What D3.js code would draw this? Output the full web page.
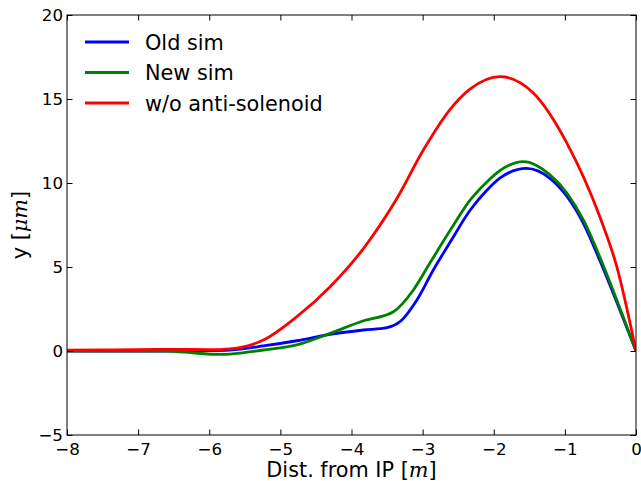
<!DOCTYPE html>
<html>
<head>
<meta charset="utf-8">
<script src="https://cdn.jsdelivr.net/npm/d3@7"></script>
<style>
body { margin: 0; background: #fff; }
text { font-family: "DejaVu Sans", sans-serif; fill: #000; }
</style>
</head>
<body>
<svg id="chart" width="641" height="481"></svg>
<script>
// Old sim (blue)
var old_x = [-8, -7, -6.5, -6, -5.71, -5.24, -4.77, -4.30, -3.83, -3.5, -3.32, -3.08, -2.85, -2.61, -2.33, -2.1, -1.91, -1.54, -1.21, -0.97, -0.74, -0.51, -0.27, 0];
var old_y = [0, 0, 0, 0.02, 0.06, 0.3, 0.61, 0.99, 1.25, 1.39, 1.74, 3.04, 4.82, 6.5, 8.39, 9.55, 10.3, 10.87, 10.28, 9.2, 7.6, 5.4, 2.9, 0];
// New sim (green)
var new_x = [-8, -7, -6.6, -6.2, -5.85, -5.71, -5.24, -4.77, -4.30, -3.83, -3.41, -3.13, -2.90, -2.61, -2.33, -2.1, -1.91, -1.58, -1.21, -0.97, -0.74, -0.51, -0.27, 0];
var new_y = [0, 0, 0, -0.12, -0.2, -0.18, 0.06, 0.36, 1.05, 1.8, 2.34, 3.63, 5.22, 7.2, 8.99, 10.05, 10.75, 11.27, 10.48, 9.39, 7.8, 5.61, 3.04, 0];
// w/o anti-solenoid (red)
var nosol_x = [-8, -7, -6.5, -6, -5.71, -5.24, -4.77, -4.30, -3.83, -3.36, -2.99, -2.61, -2.33, -1.91, -1.44, -0.97, -0.51, -0.27, 0];
var nosol_y = [0.05, 0.08, 0.1, 0.08, 0.13, 0.65, 2.04, 3.83, 6.11, 9.09, 11.96, 14.4, 15.6, 16.33, 15.34, 12.36, 8.0, 5.02, 0];

var x_ticks = [-8, -7, -6, -5, -4, -3, -2, -1, 0];
var y_ticks = [-5, 0, 5, 10, 15, 20];

var series = [
    {lab: "Old sim", col: "#0000ff", xs: old_x, ys: old_y},
    {lab: "New sim", col: "#008000", xs: new_x, ys: new_y},
    {lab: "w/o anti-solenoid", col: "#ff0000", xs: nosol_x, ys: nosol_y}
];

var box = {left: 67, right: 636, top: 15, bottom: 435};
var svg = d3.select("#chart");

var scales = {
    x: d3.scaleLinear().domain([-8, 0]).range([box.left, box.right]),
    y: d3.scaleLinear().domain([-5, 20]).range([box.bottom, box.top])
};

var draw_line = d3.line()
    .x(function(d) { return scales.x(d.x); })
    .y(function(d) { return scales.y(d.y); })
    .curve(d3.curveMonotoneX);

svg.append("clipPath").attr("id", "clip")
    .append("rect")
    .attr("x", box.left).attr("y", box.top)
    .attr("width", box.right - box.left).attr("height", box.bottom - box.top);

// curves
svg.append("g").attr("clip-path", "url(#clip)")
    .selectAll("path")
    .data(series)
    .enter().append("path")
    .attr("d", function(s) {
	return draw_line(s.xs.map(function(v, i) { return {x: v, y: s.ys[i]}; }));
    })
    .style("fill", "none")
    .style("stroke", function(s) { return s.col; })
    .style("stroke-width", 2.8)
    .style("stroke-linejoin", "round");

// axes, ticks pointing inward on all four sides
var tk = 5.5;
function axis_style(g) {
    g.select(".domain").remove();
    g.selectAll(".tick line").style("stroke", "#000").style("stroke-width", 1);
    g.selectAll(".tick text").style("font-family", "DejaVu Sans").style("font-size", "16.7px").style("fill", "#000");
}
svg.append("g")
    .attr("transform", "translate(0," + box.bottom + ")")
    .call(d3.axisBottom(scales.x).tickValues(x_ticks).tickSizeInner(-tk).tickSizeOuter(0).tickPadding(8.5))
    .call(axis_style);
svg.append("g")
    .attr("transform", "translate(0," + box.top + ")")
    .call(d3.axisTop(scales.x).tickValues(x_ticks).tickSizeInner(-tk).tickSizeOuter(0).tickFormat(""))
    .call(axis_style);
svg.append("g")
    .attr("transform", "translate(" + box.left + ",0)")
    .call(d3.axisLeft(scales.y).tickValues(y_ticks).tickSizeInner(-tk).tickSizeOuter(0).tickPadding(4))
    .call(axis_style);
svg.append("g")
    .attr("transform", "translate(" + box.right + ",0)")
    .call(d3.axisRight(scales.y).tickValues(y_ticks).tickSizeInner(-tk).tickSizeOuter(0).tickFormat(""))
    .call(axis_style);

svg.append("rect")
    .attr("x", box.left).attr("y", box.top)
    .attr("width", box.right - box.left).attr("height", box.bottom - box.top)
    .style("fill", "none").style("stroke", "#000").style("stroke-width", 1);

// axis labels
var xl = svg.append("text")
    .attr("x", (box.left + box.right) / 2).attr("y", 477)
    .attr("text-anchor", "middle")
    .style("font-size", "20.8px");
xl.append("tspan").text("Dist. from IP [");
xl.append("tspan").style("font-family", "DejaVu Serif").style("font-style", "italic").text("m");
xl.append("tspan").text("]");

var yl = svg.append("text")
    .attr("transform", "translate(27," + (box.top + box.bottom) / 2 + ") rotate(-90)")
    .attr("text-anchor", "middle")
    .style("font-size", "20.8px");
yl.append("tspan").text("y [");
yl.append("tspan").style("font-family", "DejaVu Serif").style("font-style", "italic").text("μm");
yl.append("tspan").text("]");

// legend, no frame
var leg = svg.append("g").selectAll("g")
    .data(series)
    .enter().append("g")
    .attr("transform", function(d, i) { return "translate(85," + (42 + i * 30.5) + ")"; });
leg.append("line")
    .attr("x1", 0).attr("x2", 44)
    .style("stroke", function(d) { return d.col; })
    .style("stroke-width", 2.8);
leg.append("text")
    .attr("x", 60).attr("dy", "0.36em")
    .style("font-size", "20.8px")
    .text(function(d) { return d.lab; });
</script>
</body>
</html>
